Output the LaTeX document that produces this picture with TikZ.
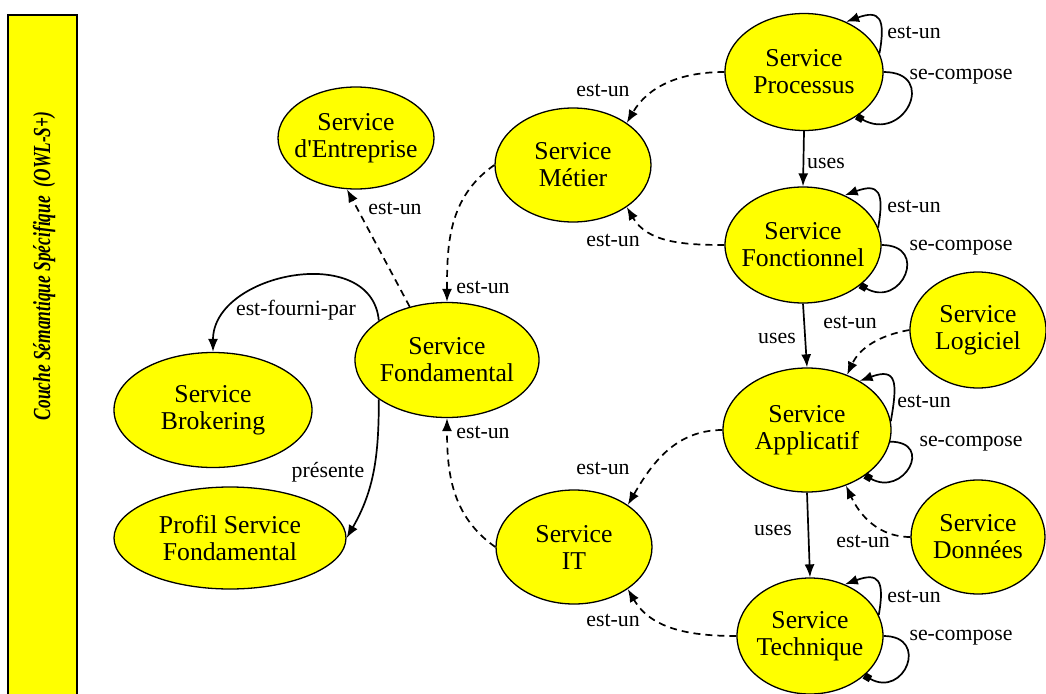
\documentclass[tikz,border=0pt]{standalone}
\usepackage{fontspec}
\setmainfont{Liberation Serif}
\usetikzlibrary{shapes.geometric, arrows.meta}
\definecolor{jaune}{RGB}{255, 255, 0}

\begin{document}
\begin{tikzpicture}[x=1pt, y=1pt,
  svc/.style={ellipse, draw=black, fill=jaune, line width=1.3pt, inner sep=0pt},
  svctxt/.style={align=center, inner sep=0pt,
    font=\fontsize{25.7}{27}\selectfont},
  lbl/.style={inner sep=0pt, font=\fontsize{21.8}{24}\selectfont},
  arr/.style={-{Latex[length=13pt, width=10pt]}, line width=1.7pt},
  dasharr/.style={arr, dash pattern=on 7pt off 5pt},
  comparr/.style={-{Square[length=7pt, width=7pt]}, line width=1.7pt},
]
\useasboundingbox (0,0) rectangle (1046,-693);

% bandeau de la couche
\draw[fill=jaune, line width=1.5pt] (8,-15) rectangle (77,-700);
\node[rotate=90, xscale=0.71, inner sep=0pt,
  font=\fontsize{24.5}{26}\selectfont\bfseries\itshape] (couche) at (44,-266)
  {Couche Sémantique Spécifique\ \ (OWL-S+)};

% services
\node[svc, minimum width=158pt, minimum height=117pt,
  label={[svctxt]center:Service\\Processus}] (proc) at (804,-72) {};
\node[svc, minimum width=156pt, minimum height=116pt,
  label={[svctxt]center:Service\\Fonctionnel}] (fonc) at (803,-245) {};
\node[svc, minimum width=168pt, minimum height=124pt,
  label={[svctxt]center:Service\\Applicatif}] (appl) at (807,-430) {};
\node[svc, minimum width=146pt, minimum height=116pt,
  label={[svctxt]center:Service\\Technique}] (tech) at (810,-636) {};
\node[svc, minimum width=136pt, minimum height=116pt,
  label={[svctxt]center:Service\\Logiciel}] (logi) at (978,-330) {};
\node[svc, minimum width=134pt, minimum height=114pt,
  label={[svctxt]center:Service\\Données}] (donn) at (978,-537) {};
\node[svc, minimum width=156pt, minimum height=114pt,
  label={[svctxt]center:Service\\Métier}] (metier) at (573,-165) {};
\node[svc, minimum width=156pt, minimum height=114pt,
  label={[svctxt]center:Service\\IT}] (it) at (574,-547) {};
\node[svc, minimum width=184pt, minimum height=115pt,
  label={[svctxt]center:Service\\Fondamental}] (fond) at (447,-360) {};
\node[svc, minimum width=198pt, minimum height=115pt,
  label={[svctxt]center:Service\\Brokering}] (brok) at (213,-410) {};
\node[svc, minimum width=232pt, minimum height=102pt,
  label={[svctxt]center:Profil Service\\Fondamental}] (profil) at (230,-538) {};
\node[svc, minimum width=156pt, minimum height=102pt,
  label={[svctxt]center:Service\\d\textquotesingle Entreprise}] (entr) at (356,-138) {};

% relations est-un
\draw[dasharr] (proc.west) to[out=180, in=60] (metier.38);
\draw[dasharr] (fonc.west) to[out=180, in=-60] (metier.-38);
\draw[dasharr] (metier.west) to[out=215, in=90] (fond.north);
\draw[dasharr] (fond.125) -- (entr.-100);
\draw[dasharr] (it.west) to[out=145, in=-90] (fond.south);
\draw[dasharr] (appl.west) to[out=180, in=60] (it.38);
\draw[dasharr] (tech.west) to[out=180, in=-60] (it.-38);
\draw[dasharr] (logi.west) to[out=190, in=65] (appl.54);
\draw[dasharr] (donn.west) to[out=180, in=-65] (appl.-55);

% autres relations
\draw[arr] (fond.150) to[out=95, in=90, looseness=1.2] (brok.north);
\draw[arr] (fond.-150) to[out=-90, in=60] (profil.east);
\draw[arr] (proc.south) -- (fonc.north);
\draw[arr] (fonc.south) -- (appl.north);
\draw[arr] (appl.south) -- (tech.north);

% boucles
\foreach \n/\a/\b/\c/\d in {proc/14/50/0/-40, fonc/13/50/0/-35,
                            appl/6/43/-8/-38, tech/17/56/0/-36}
{
  \draw[arr] (\n.\a) to[out=80, in=20, looseness=2] (\n.\b);
  \draw[comparr] (\n.\c) to[out=0, in=-30, looseness=2.7] (\n.\d);
}

% etiquettes
\node[lbl] (l-proc-met) at (603,-90) {est-un};
\node[lbl] (l-fonc-met) at (613,-240) {est-un};
\node[lbl] (l-met-fond) at (483,-287) {est-un};
\node[lbl] (l-fond-ent) at (395,-208) {est-un};
\node[lbl] (l-it-fond)  at (483,-432) {est-un};
\node[lbl] (l-app-it)   at (603,-468) {est-un};
\node[lbl] (l-tech-it)  at (613,-620) {est-un};
\node[lbl] (l-log-app)  at (850,-322) {est-un};
\node[lbl] (l-don-app)  at (863,-541) {est-un};
\node[lbl] (l-fourni)   at (296,-310) {est-fourni-par};
\node[lbl] (l-presente) at (328,-472) {présente};
\node[lbl] (l-uses1)    at (826,-163) {uses};
\node[lbl] (l-uses2)    at (777,-338) {uses};
\node[lbl] (l-uses3)    at (773,-530) {uses};
\node[lbl] (l-proc-isa) at (914,-32)  {est-un};
\node[lbl] (l-proc-cmp) at (961,-77)  {se-compose};
\node[lbl] (l-fonc-isa) at (914,-206) {est-un};
\node[lbl] (l-fonc-cmp) at (961,-248) {se-compose};
\node[lbl] (l-appl-isa) at (924,-401) {est-un};
\node[lbl] (l-appl-cmp) at (971,-444) {se-compose};
\node[lbl] (l-tech-isa) at (914,-596) {est-un};
\node[lbl] (l-tech-cmp) at (961,-638) {se-compose};
\end{tikzpicture}
\end{document}
